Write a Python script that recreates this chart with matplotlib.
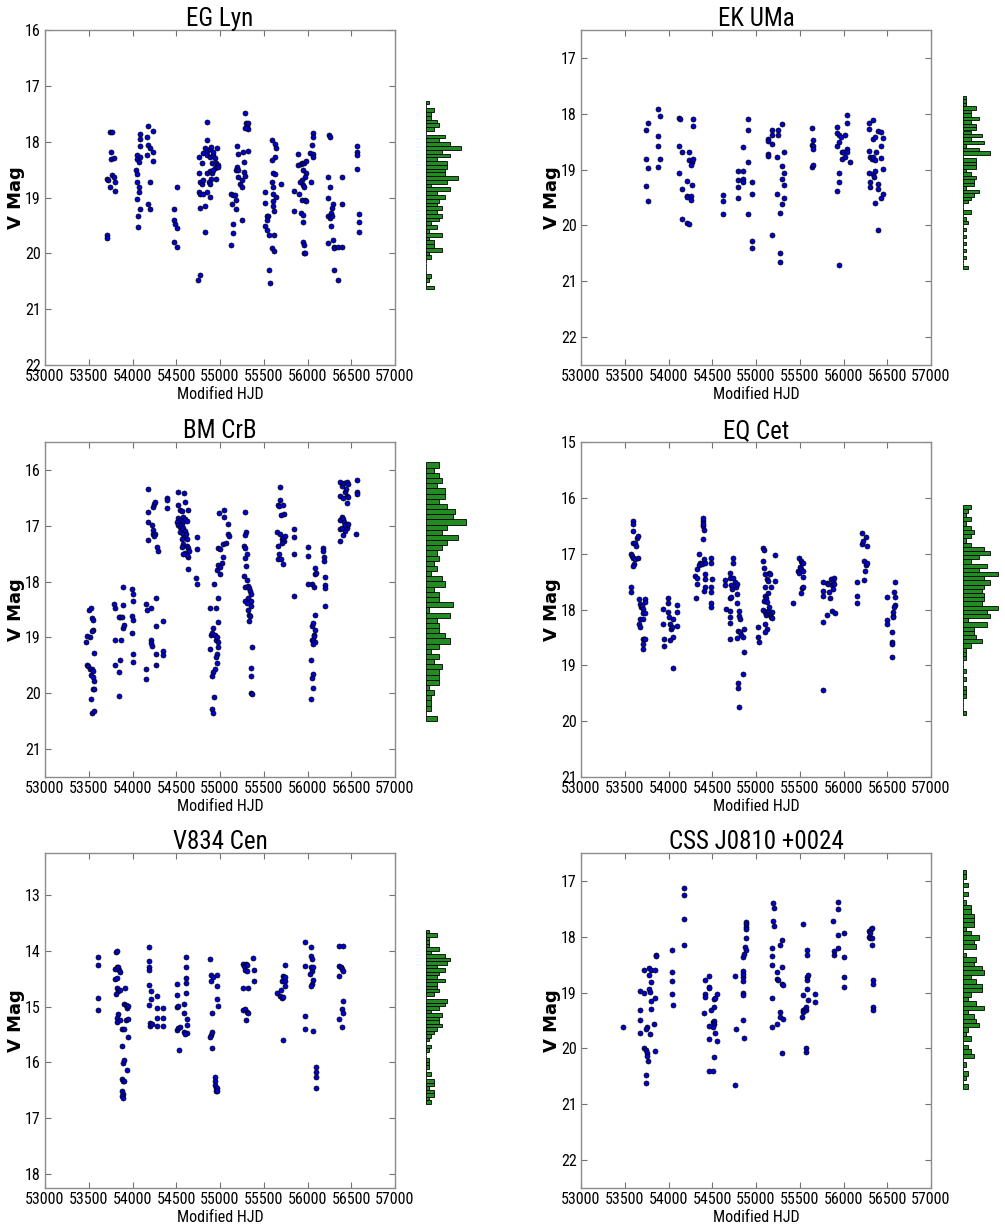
import numpy as np
import matplotlib
matplotlib.use('Agg')
import matplotlib.pyplot as plt
from matplotlib import font_manager as fm
from matplotlib.ticker import FormatStrFormatter

# ---------------- data: (Modified HJD, V mag) ----------------
EG_LYN = [
    (53740, 17.83), (53760, 17.82), (53750, 18.18), (53750, 18.31), (53790, 18.29), (53705, 18.67), (53725, 18.69),
    (53770, 18.60), (53785, 18.64), (53800, 18.72), (53745, 18.82), (53800, 18.88), (53705, 19.67), (53705, 19.73),
    (54080, 17.87), (54085, 17.95), (54090, 18.07), (54050, 18.24), (54055, 18.31), (54075, 18.36), (54085, 18.27),
    (54045, 18.51), (54050, 18.58), (54055, 18.73), (54070, 18.81), (54078, 18.91), (54055, 19.03), (54086, 19.21),
    (54060, 19.33), (54060, 19.53), (54173, 17.72), (54162, 17.91), (54173, 18.06), (54170, 18.23), (54200, 18.12),
    (54238, 18.18), (54238, 17.81), (54238, 18.35), (54200, 18.73), (54173, 19.12), (54200, 19.21),
    (54505, 18.82), (54474, 19.21), (54474, 19.40), (54485, 19.48), (54505, 19.55), (54474, 19.79), (54505, 19.89),
    (54750, 20.47), (54770, 20.39), (54855, 17.64), (54855, 17.97), (54764, 18.28), (54790, 18.38), (54810, 18.21),
    (54830, 18.12), (54850, 18.16), (54880, 18.14), (54895, 18.09), (54855, 18.24), (54885, 18.27), (54924, 18.23),
    (54943, 18.30), (54954, 18.39), (54905, 18.39), (54943, 18.48), (54981, 18.42), (54970, 18.11), (54924, 18.19),
    (54981, 18.45), (54764, 18.57), (54770, 18.72), (54790, 18.75), (54810, 18.69), (54855, 18.56), (54880, 18.52),
    (54905, 18.56), (54895, 18.66), (54870, 18.72), (54924, 18.51), (54954, 18.66), (54885, 18.75), (54764, 18.90),
    (54770, 18.94), (54810, 18.93), (54855, 18.90), (54885, 18.99), (54830, 19.16), (54770, 19.19), (54830, 19.62),
    (55198, 18.07), (55202, 18.22), (55198, 18.45), (55185, 18.50), (55202, 18.63), (55228, 18.75), (55248, 18.81),
    (55205, 18.51), (55122, 18.94), (55152, 18.96), (55170, 18.96), (55133, 19.12), (55185, 19.04), (55185, 19.21),
    (55152, 19.47), (55152, 19.64), (55126, 19.85), (55248, 19.41), (55286, 17.49), (55297, 17.67), (55312, 17.72),
    (55324, 17.67), (55324, 17.78), (55286, 17.76), (55267, 18.18), (55324, 18.16), (55274, 18.36), (55278, 18.54),
    (55286, 18.61), (55248, 18.69),
    (55590, 17.97), (55628, 18.04), (55640, 18.12), (55628, 18.28), (55590, 18.33), (55602, 18.57), (55628, 18.58),
    (55590, 18.72), (55602, 18.81), (55610, 18.93), (55640, 18.99), (55602, 19.07), (55610, 19.15), (55617, 19.24),
    (55514, 18.91), (55514, 19.10), (55533, 19.34), (55552, 19.33), (55533, 19.40), (55514, 19.51), (55533, 19.58),
    (55564, 19.67), (55617, 19.67), (55590, 19.91), (55617, 19.95), (55564, 20.30), (55571, 20.53), (55693, 18.75),
    (55895, 18.22), (55895, 18.41), (55922, 18.40), (55933, 18.38), (55960, 18.39), (55983, 18.34), (55952, 18.51),
    (55983, 18.57), (55971, 18.63), (55933, 18.69), (55914, 18.73), (55945, 18.78), (55960, 18.82), (55903, 18.93),
    (55846, 18.88), (55846, 19.24), (55933, 19.04), (55971, 19.04), (55983, 19.07), (55922, 19.27), (55945, 19.31),
    (55945, 19.43), (55945, 19.79), (55960, 19.85), (55960, 19.99), (55971, 20.00), (56048, 18.06), (56029, 18.21),
    (56067, 18.22), (56067, 18.28), (56037, 18.72), (56067, 17.85), (56067, 17.91),
    (56246, 17.88), (56253, 17.91), (56238, 18.63), (56253, 18.82), (56238, 19.01), (56276, 19.19), (56265, 19.27),
    (56238, 19.34), (56253, 19.37), (56276, 19.34), (56265, 19.51), (56238, 19.82), (56295, 19.76), (56303, 19.88),
    (56307, 19.91), (56295, 19.12), (56307, 20.30), (56352, 20.48), (56352, 19.88), (56390, 19.88), (56390, 18.63),
    (56390, 19.12),
    (56562, 18.08), (56570, 18.18), (56570, 18.24), (56562, 18.49), (56589, 19.30), (56589, 19.43), (56589, 19.62),
]

EK_UMA = [
    (53739, 18.29), (53770, 18.16), (53739, 18.81), (53770, 18.98), (53739, 19.29), (53770, 19.56),
    (53884, 17.91), (53903, 18.04), (53884, 18.40), (53884, 18.57), (53903, 18.81), (53884, 18.96),
    (54124, 18.08), (54131, 18.09), (54124, 18.57), (54154, 18.69), (54124, 19.07), (54154, 19.35), (54208, 19.20),
    (54208, 19.47), (54215, 19.49), (54257, 19.47), (54257, 19.54), (54154, 19.89), (54215, 19.96), (54238, 19.98),
    (54234, 18.69), (54238, 18.83), (54265, 18.86), (54276, 18.81), (54257, 18.92), (54276, 18.10), (54276, 18.22),
    (54265, 19.28),
    (54627, 19.46), (54627, 19.56), (54627, 19.80),
    (54798, 19.02), (54798, 19.19), (54798, 19.32), (54798, 19.50), (54855, 19.02), (54855, 19.17), (54855, 19.23),
    (54855, 18.60), (54905, 18.10), (54905, 18.29), (54905, 18.86), (54905, 19.80), (54951, 19.23), (54951, 19.44),
    (54951, 20.28), (54951, 20.41),
    (55134, 18.46), (55141, 18.48), (55134, 18.72), (55141, 18.75), (55179, 18.29), (55179, 18.38), (55179, 18.54),
    (55179, 20.17), (55248, 18.29), (55248, 18.38), (55244, 18.78), (55244, 19.44), (55275, 19.78), (55275, 20.50),
    (55275, 20.66), (55294, 18.19), (55294, 18.93), (55294, 19.16), (55294, 19.62), (55320, 18.68), (55320, 19.07),
    (55320, 19.28), (55320, 19.50),
    (55637, 18.26), (55637, 18.56), (55648, 18.47), (55656, 18.58), (55656, 18.63), (55637, 18.95), (55656, 18.92),
    (55922, 18.24), (55930, 18.35), (55953, 18.38), (55930, 18.57), (55953, 18.51), (55968, 18.42), (56018, 18.38),
    (56037, 18.02), (56037, 18.17), (55979, 18.68), (55998, 18.68), (55979, 18.81), (56018, 18.78), (56037, 18.63),
    (56037, 18.68), (56075, 18.86), (55945, 19.07), (55945, 19.22), (55922, 19.38), (55953, 20.71),
    (56296, 18.16), (56342, 18.12), (56296, 18.28), (56296, 18.66), (56304, 18.78), (56323, 18.81), (56342, 18.78),
    (56361, 18.83), (56372, 18.68), (56342, 18.46), (56361, 18.42), (56296, 19.07), (56334, 19.08), (56361, 19.02),
    (56304, 19.22), (56304, 19.32), (56361, 19.59), (56391, 19.26), (56391, 19.35), (56391, 20.08), (56399, 18.31),
    (56429, 18.32), (56429, 18.57), (56429, 18.80), (56448, 18.44), (56448, 18.99), (56448, 19.43), (56429, 19.50),
    (56353, 19.13),
]

BM_CRB = [
    (53507, 18.51), (53522, 18.47), (53533, 18.65), (53545, 18.68), (53545, 18.86), (53533, 18.89), (53484, 18.98),
    (53514, 19.00), (53469, 19.08), (53560, 19.28), (53476, 19.50), (53495, 19.51), (53514, 19.56), (53533, 19.57),
    (53545, 19.60), (53522, 19.68), (53545, 19.71), (53560, 19.78), (53545, 19.93), (53560, 19.92), (53522, 20.10),
    (53533, 20.35), (53560, 20.32),
    (53792, 18.40), (53800, 18.47), (53857, 18.63), (53849, 18.64), (53876, 18.63), (53895, 18.42), (53888, 18.10),
    (53888, 18.84), (53903, 18.77), (53800, 19.04), (53865, 19.05), (53857, 19.40), (53800, 19.49), (53849, 19.62),
    (53849, 20.05), (53991, 18.14), (54002, 18.22), (54002, 18.34), (53991, 18.62), (54002, 18.68), (53991, 18.92),
    (54002, 19.29), (54002, 19.44),
    (54154, 18.40), (54162, 18.50), (54208, 18.48), (54269, 18.30), (54154, 19.56), (54154, 19.74), (54208, 19.04),
    (54208, 19.10), (54219, 19.16), (54269, 18.80), (54269, 19.50), (54269, 19.29), (54345, 18.71), (54345, 19.25),
    (54345, 19.32),
    (54173, 16.35), (54181, 16.76), (54173, 17.26), (54181, 16.94), (54219, 16.99), (54230, 17.08), (54238, 17.14),
    (54257, 17.15), (54246, 17.18), (54230, 16.67), (54246, 16.61), (54257, 16.58), (54284, 17.38), (54295, 17.46),
    (54390, 16.50), (54390, 16.54), (54390, 16.69),
    (54524, 16.39), (54589, 16.42), (54600, 16.57), (54524, 16.63), (54543, 16.72), (54562, 16.74), (54638, 16.72),
    (54574, 16.84), (54524, 16.86), (54543, 16.90), (54505, 16.94), (54524, 16.98), (54562, 16.96), (54581, 16.91),
    (54600, 16.88), (54619, 16.92), (54543, 17.02), (54562, 17.06), (54581, 17.04), (54600, 17.09), (54543, 17.12),
    (54574, 17.15), (54593, 17.20), (54612, 17.14), (54619, 17.24), (54562, 17.24), (54581, 17.32), (54562, 17.38),
    (54619, 17.36), (54638, 17.40), (54600, 17.48), (54638, 17.56), (54627, 17.52), (54574, 17.51), (54650, 17.45),
    (54638, 17.78), (54733, 17.21), (54733, 17.42), (54726, 17.94), (54733, 18.04),
    (54886, 18.48), (54954, 18.48), (54893, 18.96), (54905, 18.92), (54924, 18.84), (54943, 18.96), (54954, 19.05),
    (54962, 19.00), (54981, 19.08), (54886, 19.20), (54981, 19.17), (54970, 19.29), (54954, 19.35), (54970, 19.46),
    (54943, 19.56), (54916, 19.62), (54905, 19.69), (54935, 20.07), (54905, 20.29), (54916, 20.35), (54935, 18.05),
    (54981, 18.29), (54981, 18.72),
    (54981, 17.39), (55000, 17.42), (54970, 17.80), (54981, 17.70), (55000, 17.74), (55019, 17.66), (55000, 17.86),
    (54993, 16.78), (55045, 16.72), (55045, 16.85), (55030, 17.33), (55068, 17.30), (55038, 17.56), (55095, 16.97),
    (55095, 17.15), (55107, 17.18),
    (55286, 16.76), (55297, 17.12), (55286, 17.16), (55274, 17.36), (55286, 17.40), (55286, 17.57), (55305, 17.50),
    (55297, 17.72), (55274, 17.90), (55312, 17.98), (55286, 18.10), (55324, 18.08), (55335, 18.12), (55343, 18.17),
    (55350, 18.22), (55324, 18.29), (55286, 18.35), (55305, 18.38), (55350, 18.34), (55350, 18.44), (55324, 18.50),
    (55335, 18.59), (55343, 18.62), (55335, 18.71), (55362, 19.17), (55350, 19.54), (55350, 19.69), (55350, 19.99),
    (55362, 20.01),
    (55686, 16.30), (55663, 16.62), (55686, 16.54), (55674, 16.64), (55724, 16.62), (55693, 16.80), (55731, 16.79),
    (55655, 17.12), (55686, 17.15), (55663, 17.36), (55674, 17.50), (55663, 17.60), (55693, 17.60), (55712, 17.24),
    (55724, 17.22), (55731, 17.28), (55712, 17.30), (55724, 17.69), (55739, 17.18),
    (55846, 17.06), (55846, 17.20), (55846, 17.50), (55846, 18.25),
    (56010, 17.38), (56010, 17.54), (56010, 18.04), (56048, 18.04), (56075, 18.10), (56086, 17.75), (56086, 17.86),
    (56097, 17.84), (56086, 18.60), (56048, 18.80), (56086, 18.86), (56075, 18.95), (56048, 19.05), (56067, 19.04),
    (56086, 19.08), (56067, 19.11), (56040, 19.41), (56063, 19.65), (56048, 19.72), (56063, 19.90), (56040, 20.11),
    (56075, 18.98), (56067, 18.74),
    (56181, 17.40), (56181, 17.46), (56188, 17.56), (56188, 17.64), (56196, 17.92), (56196, 18.06), (56196, 18.11),
    (56196, 18.44),
    (56372, 17.27), (56372, 16.90), (56391, 16.84), (56410, 16.88), (56418, 16.94), (56448, 17.00), (56456, 17.04),
    (56429, 17.09), (56410, 17.16), (56372, 17.06), (56391, 17.04), (56441, 16.96), (56429, 16.98), (56467, 16.96),
    (56372, 16.22), (56391, 16.28), (56418, 16.24), (56448, 16.22), (56460, 16.25), (56372, 16.46), (56403, 16.50),
    (56429, 16.40), (56448, 16.46), (56467, 16.49), (56456, 16.60), (56441, 16.34),
    (56562, 16.18), (56562, 16.40), (56562, 16.44), (56555, 17.14),
]

EQ_CET = [
    (53591, 16.41), (53591, 16.47), (53591, 16.59), (53598, 16.80), (53617, 16.81), (53629, 16.86), (53644, 16.72),
    (53655, 16.69), (53568, 17.01), (53579, 17.04), (53591, 17.07), (53617, 17.10), (53606, 17.19), (53598, 17.22),
    (53655, 17.08), (53568, 17.60), (53572, 17.69),
    (53667, 17.81), (53674, 17.90), (53682, 17.96), (53693, 17.93), (53731, 17.81), (53731, 17.87), (53712, 17.99),
    (53705, 18.07), (53731, 18.07), (53674, 18.17), (53667, 18.26), (53674, 18.32), (53712, 18.17), (53705, 18.53),
    (53720, 18.53), (53731, 18.52), (53712, 18.62), (53712, 18.71),
    (53941, 17.99), (53941, 18.26), (53949, 18.53), (53949, 18.65), (53998, 17.80), (53998, 17.89), (53998, 18.04),
    (54010, 18.14), (54017, 18.26), (54025, 18.35), (54017, 18.55), (54048, 18.17), (54036, 18.32), (54055, 18.49),
    (54101, 17.92), (54101, 18.04), (54101, 18.29), (54055, 19.04),
    (54303, 17.40), (54322, 17.43), (54322, 17.54), (54314, 17.80), (54322, 17.28), (54352, 17.01), (54360, 17.17),
    (54352, 17.20), (54379, 17.19), (54390, 16.41), (54398, 16.50), (54406, 16.57), (54390, 16.74), (54406, 17.10),
    (54417, 17.16), (54417, 17.37), (54417, 17.46), (54417, 17.59), (54406, 17.66), (54390, 16.36), (54398, 16.46),
    (54482, 17.07), (54482, 17.17), (54482, 17.60), (54482, 17.69), (54482, 17.89), (54482, 17.96), (54494, 17.46),
    (54646, 17.47), (54646, 17.57), (54657, 17.99), (54703, 17.34), (54703, 17.43), (54711, 17.57), (54722, 17.63),
    (54733, 17.07), (54741, 17.17), (54741, 17.43), (54760, 17.51), (54771, 17.60), (54787, 17.54), (54703, 17.80),
    (54711, 17.78), (54703, 18.02), (54703, 18.14), (54703, 18.25), (54703, 18.53), (54787, 17.72), (54787, 17.89),
    (54810, 18.02), (54810, 18.11), (54817, 18.17), (54798, 18.38), (54817, 18.41), (54825, 18.46), (54848, 18.50),
    (54783, 18.51), (54863, 18.35), (54863, 18.77), (54798, 19.31), (54798, 19.40), (54810, 19.75), (54855, 19.15),
    (55027, 18.31), (55027, 18.50), (55038, 18.59), (55084, 16.89), (55091, 16.93), (55084, 17.13), (55091, 17.25),
    (55103, 17.37), (55122, 17.46), (55141, 17.49), (55103, 17.60), (55103, 17.75), (55114, 17.80), (55091, 17.84),
    (55122, 17.87), (55141, 17.71), (55084, 18.01), (55103, 18.05), (55114, 18.10), (55130, 18.07), (55141, 18.02),
    (55160, 18.08), (55168, 18.14), (55152, 17.96), (55103, 18.26), (55122, 18.35), (55103, 18.41), (55152, 17.34),
    (55160, 17.37), (55179, 18.05), (55179, 18.16), (55217, 17.02), (55217, 17.49), (55168, 17.59),
    (55419, 17.89),
    (55495, 17.07), (55510, 17.13), (55522, 17.17), (55503, 17.23), (55484, 17.31), (55495, 17.35), (55510, 17.27),
    (55541, 17.16), (55533, 17.31), (55541, 17.41), (55510, 17.71), (55522, 17.62), (55541, 17.59),
    (55762, 17.51), (55762, 17.66), (55770, 17.75), (55762, 18.23), (55770, 19.45), (55808, 17.53), (55815, 18.10),
    (55827, 17.54), (55838, 17.69), (55846, 17.80), (55853, 17.46), (55865, 17.57), (55876, 17.63), (55865, 18.02),
    (55876, 17.49), (55891, 17.43), (55891, 17.55), (55903, 18.07),
    (56159, 17.50), (56159, 17.75), (56159, 17.89), (56208, 16.63), (56208, 16.83), (56219, 16.78), (56257, 16.71),
    (56265, 16.86), (56235, 17.14), (56257, 17.20), (56265, 17.17), (56246, 17.31), (56235, 17.47),
    (56494, 17.77), (56494, 18.19), (56494, 18.26), (56551, 18.40), (56551, 18.59), (56551, 18.62), (56551, 18.85),
    (56562, 18.11), (56570, 18.04), (56570, 18.14), (56578, 17.69), (56589, 17.50), (56589, 17.78), (56589, 17.92),
    (56578, 17.96),
]

V834_CEN = [
    (53602, 14.12), (53602, 14.25), (53602, 14.84), (53602, 15.06),
    (53811, 14.03), (53827, 14.00), (53800, 14.33), (53819, 14.30), (53838, 14.29), (53849, 14.35), (53857, 14.39),
    (53800, 14.51), (53827, 14.49), (53819, 14.66), (53838, 14.72), (53857, 14.71), (53811, 14.78), (53914, 14.67),
    (53903, 14.96), (53926, 14.97), (53941, 15.02), (53952, 14.99), (53838, 15.14), (53827, 15.20), (53819, 15.27),
    (53857, 15.24), (53876, 15.40), (53903, 15.40), (53926, 15.24), (53952, 15.23), (53945, 15.54), (53876, 15.70),
    (53888, 16.02), (53903, 15.96), (53941, 16.14), (53876, 16.30), (53895, 16.34), (53903, 16.33), (53876, 16.51),
    (53888, 16.56), (53876, 16.60), (53888, 16.64),
    (54189, 13.94), (54189, 14.18), (54192, 14.30), (54192, 14.35), (54189, 14.61), (54208, 14.72), (54208, 14.87),
    (54192, 14.97), (54200, 15.29), (54200, 15.34), (54219, 15.32), (54276, 14.81), (54276, 15.03), (54276, 15.21),
    (54276, 15.34), (54345, 15.03), (54345, 15.21), (54345, 15.34),
    (54505, 14.60), (54505, 14.79), (54512, 15.00), (54524, 14.99), (54505, 15.42), (54524, 15.39), (54535, 15.78),
    (54543, 15.36), (54589, 14.96), (54593, 15.12), (54589, 15.46), (54612, 14.12), (54612, 14.29), (54612, 14.48),
    (54612, 14.57), (54612, 14.75), (54619, 15.23), (54619, 15.33), (54619, 15.48), (54600, 15.49),
    (54886, 14.14), (54893, 14.43), (54916, 14.47), (54893, 14.54), (54905, 15.12), (54893, 15.51), (54886, 15.54),
    (54905, 15.46), (54905, 15.74), (54943, 16.27), (54943, 16.34), (54943, 16.40), (54954, 16.45), (54954, 16.51),
    (54970, 16.46), (54962, 16.52), (54970, 14.43), (54970, 14.63), (54970, 14.87), (54981, 14.99),
    (55267, 14.23), (55274, 14.27), (55297, 14.24), (55312, 14.25), (55286, 14.35), (55312, 14.36), (55267, 14.66),
    (55324, 14.66), (55267, 15.06), (55286, 15.05), (55312, 15.09), (55324, 15.11), (55297, 15.24), (55381, 14.13),
    (55389, 14.35), (55389, 14.54),
    (55655, 14.75), (55686, 14.81), (55693, 14.71), (55705, 14.54), (55705, 14.84), (55716, 14.83), (55724, 14.45),
    (55731, 14.48), (55743, 14.54), (55743, 14.63), (55743, 14.47), (55743, 14.25), (55716, 15.60),
    (55971, 13.84), (55971, 14.27), (55971, 15.17), (55971, 15.40), (56036, 13.93), (56036, 14.09), (56048, 14.15),
    (56036, 14.30), (56048, 14.36), (56059, 14.30), (56029, 14.41), (56048, 14.60), (56036, 14.63), (56059, 14.53),
    (56059, 15.43), (56097, 16.08), (56097, 16.18), (56097, 16.27), (56097, 16.46),
    (56364, 13.91), (56410, 13.91), (56364, 14.27), (56380, 14.29), (56391, 14.33), (56410, 14.37), (56364, 14.46),
    (56410, 14.90), (56391, 15.05), (56410, 15.12), (56364, 15.23), (56391, 15.36),
]

CSS_J0810 = [
    (53484, 19.61),
    (53674, 18.98), (53674, 19.31), (53674, 19.49), (53674, 19.72), (53720, 18.60), (53720, 19.01), (53751, 19.62),
    (53743, 19.65), (53720, 19.99), (53743, 20.03), (53751, 20.09), (53751, 20.13), (53762, 20.23), (53743, 20.47),
    (53739, 20.62), (53781, 18.56), (53781, 18.69), (53797, 18.60), (53797, 18.81), (53781, 18.93), (53789, 18.99),
    (53797, 19.15), (53797, 19.30), (53789, 19.74), (53835, 19.57), (53846, 18.59), (53846, 19.09), (53846, 20.05),
    (53857, 18.32), (53857, 18.35),
    (54036, 18.24), (54036, 18.64), (54036, 18.79), (54036, 19.02), (54055, 19.23),
    (54173, 17.12), (54173, 17.26), (54173, 17.68), (54173, 18.14),
    (54417, 18.77), (54417, 19.02), (54417, 19.08), (54410, 19.37), (54467, 18.71), (54467, 18.90), (54467, 18.91),
    (54482, 19.31), (54467, 19.59), (54467, 19.83), (54467, 20.41), (54505, 20.41), (54513, 19.53), (54524, 19.51),
    (54524, 19.56), (54513, 19.62), (54520, 19.11), (54532, 19.09), (54520, 19.25), (54532, 19.73), (54558, 19.03),
    (54558, 19.86), (54520, 20.15),
    (54760, 18.71), (54768, 19.66), (54764, 20.65), (54848, 18.72), (54848, 18.61), (54848, 18.66), (54848, 18.79),
    (54848, 19.01), (54848, 19.05), (54848, 19.49), (54863, 19.82), (54848, 18.36), (54863, 18.30), (54874, 18.18),
    (54886, 18.23), (54886, 18.02), (54886, 17.74), (54886, 17.78), (54886, 17.83), (54886, 17.86),
    (55179, 18.20), (55179, 18.35), (55179, 18.51), (55179, 19.09), (55179, 19.62), (55198, 17.39), (55205, 17.48),
    (55198, 17.72), (55205, 17.80), (55244, 18.63), (55244, 18.75), (55244, 19.56), (55255, 18.77), (55274, 18.15),
    (55274, 19.34), (55274, 19.43), (55294, 18.05), (55294, 18.54), (55294, 18.84), (55305, 18.87), (55305, 19.47),
    (55294, 20.09),
    (55533, 17.78), (55533, 19.31), (55522, 19.44), (55541, 19.35), (55560, 19.29), (55571, 19.32), (55571, 19.26),
    (55580, 18.24), (55580, 18.33), (55580, 18.77), (55587, 18.72), (55598, 18.68), (55580, 18.93), (55571, 19.99),
    (55571, 20.07), (55541, 19.05), (55598, 19.13), (55675, 19.02), (55675, 19.17),
    (55884, 17.71), (55891, 18.26), (55891, 18.32), (55941, 17.38), (55941, 17.50), (55941, 17.96), (55941, 18.20),
    (56006, 17.94), (56006, 18.36), (56006, 18.72), (56006, 18.90),
    (56296, 17.90), (56304, 17.93), (56311, 17.86), (56323, 17.84), (56296, 18.00), (56304, 18.03), (56323, 18.02),
    (56323, 18.15), (56334, 18.77), (56334, 18.85), (56334, 19.25), (56334, 19.31),
]

STAR_NAMES = ['EG Lyn', 'EK UMa', 'BM CrB', 'EQ Cet', 'V834 Cen', 'CSS J0810 +0024']
STAR_DATA = [EG_LYN, EK_UMA, BM_CRB, EQ_CET, V834_CEN, CSS_J0810]
MAG_LIMITS = [(16, 22), (16.5, 22.5), (15.5, 21.5), (15, 21), (12.25, 18.25), (16.5, 22.5)]
HJD_TICKS = list(range(53000, 57001, 500))
X_LABEL = 'Modified HJD'
Y_LABEL = 'V Mag'
N_BINS = 50

# ---------------- fonts: prefer a narrow / condensed sans ----------------
cond_family, cond_stretch = None, 'normal'
preferred = ['Liberation Sans Narrow', 'Roboto Condensed', 'Open Sans Condensed', 'Noto Sans Condensed',
             'DejaVu Sans Condensed']
fonts = fm.fontManager.ttflist
all_names = {f.name for f in fonts}
for p in preferred:
    if p in all_names:
        cond_family = p
        break
if cond_family is None:
    for f in fonts:
        st = f.stretch
        narrow = ('Narrow' in f.name or 'Condensed' in f.name
                  or (isinstance(st, str) and 'condensed' in st and 'semi' not in st)
                  or (isinstance(st, (int, float)) and st <= 400))
        if narrow and f.weight in ('normal', 'regular', 400, 'book', 'medium', 500) and f.style == 'normal':
            cond_family = f.name
            cond_stretch = st
            break

if cond_family is not None:
    plt.rcParams['font.family'] = [cond_family, 'DejaVu Sans']
    plt.rcParams['font.stretch'] = cond_stretch
    TICK_SIZE, TITLE_SIZE, XLAB_SIZE = 11.5, 18, 11.5
else:
    plt.rcParams['font.family'] = ['Liberation Sans', 'DejaVu Sans']
    TICK_SIZE, TITLE_SIZE, XLAB_SIZE = 10, 16, 11

# ---------------- layout ----------------
W, H = 1005, 1228
fig = plt.figure(figsize=(W / 100, H / 100), dpi=100)


def rect(x0, y0, w, h):
    return [x0 / W, 1 - (y0 + h) / H, w / W, h / H]


col_left = [45, 581]
row_top = [30, 442, 853]
ax_w, ax_h = 350, 335
hist_left = [426, 963]
hist_w = 80

for i, (name, data, (lo, hi)) in enumerate(zip(STAR_NAMES, STAR_DATA, MAG_LIMITS)):
    r, c = divmod(i, 2)
    hjd, mag = (np.array(v) for v in zip(*data))

    ax = fig.add_axes(rect(col_left[c], row_top[r], ax_w, ax_h))
    ax.scatter(hjd, mag, s=13, c='#0000d0', edgecolors='k', linewidths=0.5, zorder=3)
    ax.set_xlim(HJD_TICKS[0], HJD_TICKS[-1])
    ax.set_ylim(hi, lo)
    ax.set_xticks(HJD_TICKS)
    ax.set_yticks(np.arange(np.ceil(lo), np.floor(hi) + 1))
    ax.yaxis.set_major_formatter(FormatStrFormatter('%d'))
    ax.tick_params(direction='in', length=4, width=0.8, color='0.45', top=True, right=True,
                   labelsize=TICK_SIZE, pad=3)
    for sp in ax.spines.values():
        sp.set_color('0.55')
        sp.set_linewidth(1.0)
    ax.set_title(name, fontsize=TITLE_SIZE, pad=3)
    ax.set_xlabel(X_LABEL, fontsize=XLAB_SIZE, labelpad=2)
    ax.set_ylabel(Y_LABEL, fontsize=13, fontweight='bold', family='DejaVu Sans', stretch='normal')
    ax.yaxis.set_label_coords(-0.058, 0.5)

    axh = fig.add_axes(rect(hist_left[c], row_top[r], hist_w, ax_h))
    axh.hist(mag, bins=N_BINS, orientation='horizontal', color='#228B22', edgecolor='k', linewidth=0.6)
    axh.set_ylim(hi - 0.25, lo + 0.35)
    axh.set_xlim(0, 30)
    axh.axis('off')

fig.savefig('out.png', dpi=100)
